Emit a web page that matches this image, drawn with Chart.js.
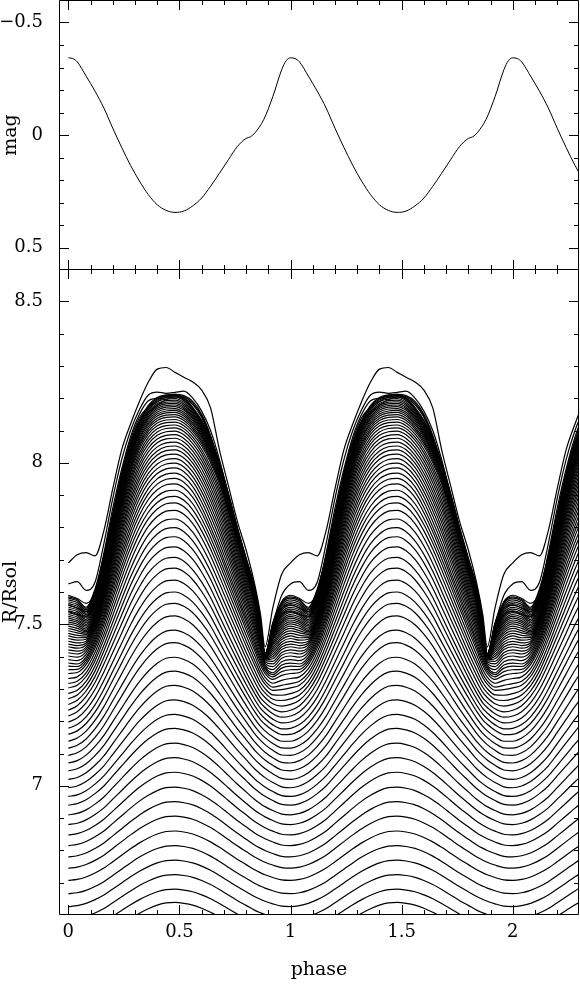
<!DOCTYPE html>
<html>
<head>
<meta charset="utf-8">
<script src="https://cdn.jsdelivr.net/npm/chart.js@4.4.0/dist/chart.umd.min.js"></script>
<style>
  html, body { margin: 0; padding: 0; background: #fff; }
  #wrap { position: relative; width: 580px; height: 984px; overflow: hidden; }
  #magBox { position: absolute; left: 0; top: 0; width: 580px; height: 270px; }
  #radBox { position: absolute; left: 0; top: 269px; width: 580px; height: 715px; }
</style>
</head>
<body>
<div id="wrap">
  <div id="magBox"><canvas id="magChart" width="580" height="270"></canvas></div>
  <div id="radBox"><canvas id="radChart" width="580" height="715"></canvas></div>
</div>
<script>
// tick labels
const phaseTicks = [0, 0.5, 1, 1.5, 2];
const magTicks = [-0.5, 0, 0.5];
const radiusTicks = [7, 7.5, 8, 8.5];

// light curve, one cycle (phase, mag)
const magPhase = [0, 0.02, 0.04, 0.08, 0.12, 0.16, 0.20, 0.24, 0.28, 0.32, 0.36, 0.40, 0.44, 0.48, 0.52,
  0.56, 0.60, 0.64, 0.68, 0.72, 0.76, 0.80, 0.82, 0.84, 0.88, 0.92, 0.96, 0.98, 1.0];
const magCycle = [-0.343, -0.34, -0.325, -0.262, -0.195, -0.12, -0.03, 0.055, 0.135, 0.205, 0.265, 0.31, 0.335,
  0.344, 0.338, 0.315, 0.28, 0.228, 0.17, 0.11, 0.052, 0.015, 0.008, -0.01, -0.07, -0.17, -0.29, -0.33, -0.343];

// radius curves, one cycle
const cyclePhase = [0, 0.04, 0.08, 0.12, 0.16, 0.20, 0.24, 0.28, 0.32, 0.36, 0.40, 0.44, 0.48, 0.52,
  0.56, 0.60, 0.64, 0.68, 0.72, 0.76, 0.80, 0.84, 0.865, 0.885, 0.92, 0.96, 1.0];

// curve shapes (0 = trough, 1 = crest), deep -> surface
const profileDeep = [0.0, 0.02, 0.07, 0.15, 0.25, 0.38, 0.51, 0.64, 0.76, 0.86, 0.94, 0.99, 1.0, 0.98,
  0.94, 0.87, 0.78, 0.67, 0.55, 0.43, 0.32, 0.21, 0.155, 0.115, 0.06, 0.01, 0.0];
const profileMid = [0.01, 0.04, 0.10, 0.19, 0.31, 0.44, 0.57, 0.70, 0.81, 0.90, 0.96, 0.995, 1.0, 0.975,
  0.92, 0.84, 0.74, 0.62, 0.50, 0.38, 0.26, 0.15, 0.09, 0.06, 0.02, 0.0, 0.01];
const profileUpper = [0.05, 0.045, 0.08, 0.17, 0.30, 0.45, 0.60, 0.73, 0.84, 0.92, 0.97, 0.995, 1.0, 0.98,
  0.93, 0.85, 0.75, 0.64, 0.52, 0.40, 0.28, 0.16, 0.08, 0.03, 0.0, 0.04, 0.05];
const profileSurface = [0.15, 0.14, 0.12, 0.18, 0.32, 0.49, 0.65, 0.785, 0.885, 0.95, 0.985, 0.998, 1.0, 0.985,
  0.95, 0.90, 0.83, 0.74, 0.62, 0.49, 0.37, 0.25, 0.13, 0.01, 0.08, 0.13, 0.15];
const profileTop = [0.22, 0.21, 0.18, 0.25, 0.38, 0.54, 0.69, 0.81, 0.90, 0.957, 0.988, 0.998, 1.0, 0.985,
  0.95, 0.90, 0.83, 0.74, 0.62, 0.49, 0.37, 0.25, 0.13, 0.0, 0.12, 0.20, 0.22];

// per layer: radius at crest (phase ~0.48) and at trough
const crestR = [6.639, 6.68, 6.725, 6.77, 6.815, 6.86, 6.906, 6.951, 6.996, 7.042, 7.087, 7.132, 7.178, 7.221,
  7.266, 7.311, 7.355, 7.398, 7.443, 7.482, 7.526, 7.565, 7.60, 7.637, 7.674, 7.707, 7.74, 7.771, 7.799,
  7.826, 7.853, 7.876, 7.896, 7.915, 7.935, 7.952, 7.968, 7.984, 7.999, 8.013, 8.027, 8.040, 8.052, 8.064,
  8.076, 8.087, 8.098, 8.108, 8.117, 8.126, 8.134, 8.142, 8.149, 8.156, 8.162, 8.168, 8.174, 8.179, 8.184,
  8.189, 8.194, 8.199, 8.204, 8.208, 8.212];
const troughR = [6.50, 6.545, 6.585, 6.626, 6.666, 6.707, 6.745, 6.78, 6.815, 6.848, 6.88, 6.91, 6.94, 6.967,
  6.994, 7.02, 7.046, 7.07, 7.093, 7.115, 7.136, 7.157, 7.175, 7.194, 7.212, 7.229, 7.245, 7.26, 7.274,
  7.289, 7.30, 7.313, 7.326, 7.335, 7.343, 7.35, 7.356, 7.362, 7.367, 7.371, 7.375, 7.378, 7.381, 7.384,
  7.386, 7.388, 7.39, 7.391, 7.392, 7.393, 7.394, 7.395, 7.396, 7.397, 7.398, 7.399, 7.40, 7.401, 7.402,
  7.403, 7.404, 7.405, 7.406, 7.407, 7.408];
// which shape each layer follows (0 deep ... 4 top)
const profileMix = [0, 0, 0, 0, 0, 0, 0, 0, 0, 0, 0, 0, 0, 0, 0, 0, 0.1, 0.2, 0.3, 0.4, 0.5, 0.6, 0.7, 0.8,
  0.9, 1.0, 1.1, 1.2, 1.3, 1.4, 1.5, 1.6, 1.7, 1.8, 1.9, 2.0, 2.07, 2.14, 2.21, 2.28, 2.35, 2.42, 2.49,
  2.56, 2.63, 2.70, 2.77, 2.84, 2.91, 2.98, 3.05, 3.12, 3.19, 3.26, 3.33, 3.40, 3.47, 3.54, 3.61, 3.68,
  3.75, 3.82, 3.89, 3.96, 4.0];

// outermost layers, read point by point
const surface1 = [7.69, 7.715, 7.722, 7.712, 7.79, 7.92, 8.04, 8.12, 8.19, 8.25, 8.29, 8.295, 8.28, 8.265,
  8.25, 8.225, 8.17, 8.04, 7.93, 7.82, 7.73, 7.62, 7.53, 7.43, 7.55, 7.655, 7.69];
const surface2 = [7.625, 7.632, 7.605, 7.63, 7.75, 7.89, 8.01, 8.10, 8.165, 8.21, 8.219, 8.215, 8.218, 8.222,
  8.20, 8.16, 8.10, 8.01, 7.90, 7.79, 7.69, 7.585, 7.50, 7.41, 7.50, 7.59, 7.625];
const surface3 = [7.59, 7.58, 7.565, 7.60, 7.72, 7.86, 7.98, 8.08, 8.15, 8.192, 8.20, 8.208, 8.212, 8.208,
  8.19, 8.15, 8.085, 7.995, 7.885, 7.775, 7.675, 7.57, 7.49, 7.405, 7.49, 7.57, 7.59];
const surface4 = [7.56, 7.55, 7.54, 7.58, 7.70, 7.84, 7.97, 8.07, 8.14, 8.172, 8.19, 8.203, 8.208, 8.204,
  8.185, 8.145, 8.08, 7.99, 7.88, 7.77, 7.67, 7.565, 7.485, 7.40, 7.48, 7.55, 7.56];
const surface5 = [7.54, 7.53, 7.525, 7.565, 7.69, 7.83, 7.96, 8.06, 8.13, 8.155, 8.178, 8.196, 8.204, 8.2,
  8.18, 8.14, 8.075, 7.985, 7.875, 7.765, 7.665, 7.56, 7.48, 7.40, 7.47, 7.53, 7.54];

const PHASE_MIN = -0.042, PHASE_MAX = 2.298;

Chart.defaults.font.family = "'DejaVu Serif', serif";
Chart.defaults.color = '#000';

const profiles = [profileDeep, profileMid, profileUpper, profileSurface, profileTop];

function layerCycle(i) {
  const w = profileMix[i];
  const lo = Math.min(Math.floor(w), 4), hi = Math.min(lo + 1, 4), f = w - lo;
  return cyclePhase.map((p, k) => {
    const s = profiles[lo][k] * (1 - f) + profiles[hi][k] * f;
    return troughR[i] + (crestR[i] - troughR[i]) * s;
  });
}

// phase-folded data is repeated for phase 1..2.3
function unfold(phases, values) {
  const pts = [];
  for (let c = 0; c < 3; c++) {
    phases.forEach((p, k) => {
      if (c > 0 && k === 0) return;
      const ph = c + p;
      if (ph <= 2.37) pts.push({ x: ph, y: values[k] });
    });
  }
  return pts;
}

function steps(from, to, step) {
  const out = [];
  for (let v = from; v <= to + 1e-9; v += step) out.push(Math.round(v * 1000) / 1000);
  return out;
}

function fmt(v) {
  return v < 0 ? '\u2212' + String(-v) : String(v);
}

// frame with ticks pointing inwards on all four sides
const frameTicks = {
  id: 'frameTicks',
  afterDraw(chart, args, opts) {
    const { ctx, chartArea: a, scales: { x, y } } = chart;
    ctx.save();
    ctx.strokeStyle = '#000';
    ctx.lineWidth = 1;
    ctx.beginPath();
    ctx.rect(a.left + 0.5, a.top + 0.5, a.right - a.left - 1, a.bottom - a.top - 1);
    opts.xMinor.forEach(v => {
      const px = Math.round(x.getPixelForValue(v)) + 0.5;
      const len = opts.xMajor.includes(v) ? 10 : 5;
      ctx.moveTo(px, a.top); ctx.lineTo(px, a.top + len);
      ctx.moveTo(px, a.bottom); ctx.lineTo(px, a.bottom - len);
    });
    opts.yMinor.forEach(v => {
      const py = Math.round(y.getPixelForValue(v)) + 0.5;
      const len = opts.yMajor.includes(v) ? 10 : 5;
      ctx.moveTo(a.left, py); ctx.lineTo(a.left + len, py);
      ctx.moveTo(a.right, py); ctx.lineTo(a.right - len, py);
    });
    ctx.stroke();
    ctx.restore();
  }
};

function lineSet(points, width) {
  return {
    data: points,
    borderColor: '#000',
    borderWidth: width,
    pointRadius: 0,
    cubicInterpolationMode: 'monotone',
    clip: 0
  };
}

function yAxis(min, max, reverse, ticks, title) {
  return {
    type: 'linear', min: min, max: max, reverse: reverse,
    grid: { display: false, drawTicks: false },
    border: { display: false },
    afterBuildTicks: s => { s.ticks = ticks.map(v => ({ value: v })); },
    afterFit: s => { s.width = 59; s.paddingTop = 0; s.paddingBottom = 0; },
    ticks: { padding: 16, font: { size: 18 }, callback: v => fmt(v) },
    title: { display: true, text: title, font: { size: 19 }, padding: 0 }
  };
}

const phaseMinor = steps(0, 2.2, 0.1);

new Chart(document.getElementById('magChart'), {
  type: 'line',
  data: { datasets: [lineSet(unfold(magPhase, magCycle), 1)] },
  options: {
    responsive: false, animation: false, events: [],
    layout: { padding: { left: 0, right: 1, top: 0, bottom: 0 } },
    plugins: {
      legend: { display: false }, tooltip: { enabled: false },
      frameTicks: { xMinor: phaseMinor, xMajor: phaseTicks, yMinor: steps(-0.5, 0.5, 0.1), yMajor: magTicks }
    },
    scales: {
      x: { type: 'linear', display: false, min: PHASE_MIN, max: PHASE_MAX },
      y: yAxis(-0.6, 0.6, true, magTicks, 'mag')
    }
  },
  plugins: [frameTicks]
});

const radiusSets = crestR.map((c, i) => lineSet(unfold(cyclePhase, layerCycle(i)), 1.2));
[surface5, surface4, surface3, surface2, surface1].forEach(s => radiusSets.push(lineSet(unfold(cyclePhase, s), 1.2)));

new Chart(document.getElementById('radChart'), {
  type: 'line',
  data: { datasets: radiusSets },
  options: {
    responsive: false, animation: false, events: [],
    layout: { padding: { left: 0, right: 1, top: 0, bottom: 0 } },
    plugins: {
      legend: { display: false }, tooltip: { enabled: false },
      frameTicks: { xMinor: phaseMinor, xMajor: phaseTicks, yMinor: steps(6.7, 8.5, 0.1), yMajor: radiusTicks }
    },
    scales: {
      x: {
        type: 'linear', min: PHASE_MIN, max: PHASE_MAX,
        grid: { display: false, drawTicks: false },
        border: { display: false },
        afterBuildTicks: s => { s.ticks = phaseTicks.map(v => ({ value: v })); },
        afterFit: s => { s.height = 69; s.paddingLeft = 0; s.paddingRight = 0; },
        ticks: { padding: 7, font: { size: 18 }, maxRotation: 0, callback: v => fmt(v) },
        title: { display: true, text: 'phase', font: { size: 19 }, padding: { top: 0, bottom: 3 } }
      },
      y: yAxis(6.6, 8.6, false, radiusTicks, 'R/Rsol')
    }
  },
  plugins: [frameTicks]
});
</script>
</body>
</html>
